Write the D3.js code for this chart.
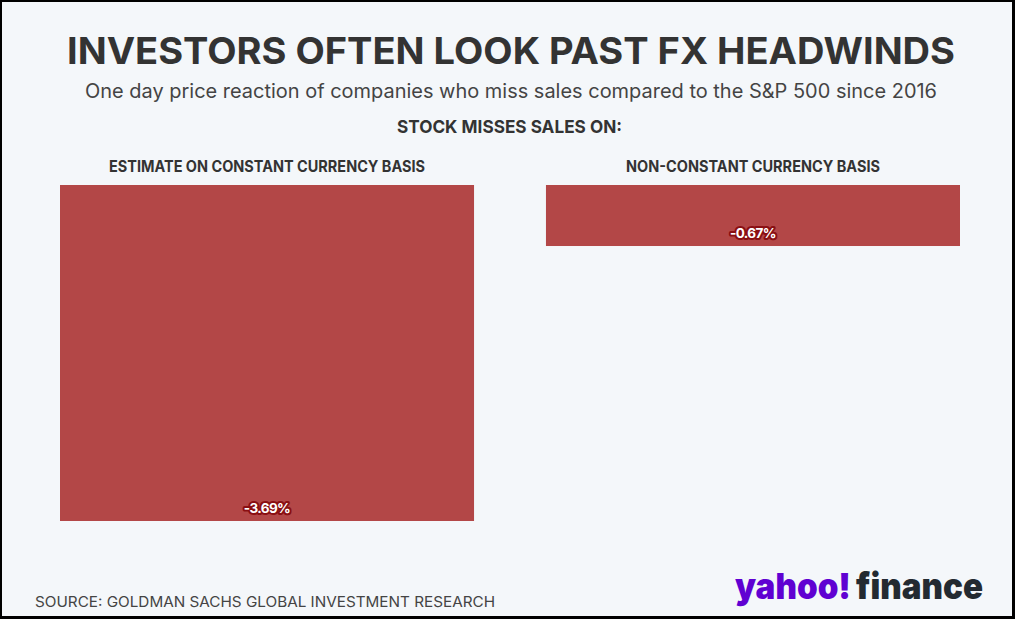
<!DOCTYPE html>
<html>
<head>
<meta charset="utf-8">
<script src="https://cdn.jsdelivr.net/npm/d3@7"></script>
<style>
  html, body { margin: 0; padding: 0; background: #000; }
  svg { display: block; }
</style>
</head>
<body>
<svg id="chart" width="1015" height="619"></svg>
<script>
// ---- data ----
const categories = ["ESTIMATE ON CONSTANT CURRENCY BASIS", "NON-CONSTANT CURRENCY BASIS"];
const values = [-3.69, -0.67];
const valueLabels = ["-3.69%", "-0.67%"];
const titleText = "INVESTORS OFTEN LOOK PAST FX HEADWINDS";
const subtitleText = "One day price reaction of companies who miss sales compared to the S&P 500 since 2016";
const sectionText = "STOCK MISSES SALES ON:";
const sourceText = "SOURCE: GOLDMAN SACHS GLOBAL INVESTMENT RESEARCH";

const svg = d3.select("#chart");
const W = 1015, H = 619;
const FONT = "Inter, Roboto, sans-serif";

// frame + background
svg.append("rect").attr("x", 0).attr("y", 0).attr("width", W).attr("height", H).attr("fill", "#000");
svg.append("rect").attr("x", 2).attr("y", 2).attr("width", 1010).attr("height", 614).attr("fill", "#f4f7fa");

// title
svg.append("text")
  .attr("x", 67).attr("y", 64)
  .attr("textLength", 888).attr("lengthAdjust", "spacingAndGlyphs")
  .style("font-family", FONT).style("font-weight", 700)
  .style("font-size", "37px").attr("fill", "#333333")
  .text(titleText);

svg.append("text")
  .attr("x", 85).attr("y", 98)
  .attr("textLength", 852).attr("lengthAdjust", "spacingAndGlyphs")
  .style("font-family", FONT).style("font-weight", 400)
  .style("font-size", "19.5px").attr("fill", "#444444")
  .text(subtitleText);

svg.append("text")
  .attr("x", 397).attr("y", 133)
  .attr("textLength", 225).attr("lengthAdjust", "spacingAndGlyphs")
  .style("font-family", FONT).style("font-weight", 700)
  .style("font-size", "18px").attr("fill", "#333333")
  .text(sectionText);

// scales
const x = d3.scaleBand().domain(categories).range([60, 960]).paddingInner(0.148).paddingOuter(0);
const y = d3.scaleLinear().domain([-3.69, 0]).range([521, 185]);

const labelWidths = [316, 254];

const g = svg.append("g");
categories.forEach((c, i) => {
  const v = values[i];
  const bx = x(c), bw = x.bandwidth();
  g.append("rect")
    .attr("x", bx).attr("y", y(0))
    .attr("width", bw).attr("height", y(v) - y(0))
    .attr("fill", "#b34747");

  g.append("text")
    .attr("x", bx + bw / 2).attr("y", 172)
    .attr("text-anchor", "middle")
    .attr("textLength", labelWidths[i]).attr("lengthAdjust", "spacingAndGlyphs")
    .style("font-family", FONT).style("font-weight", 700)
    .style("font-size", "15.5px").attr("fill", "#333333")
    .text(c);

  g.append("text")
    .attr("x", bx + bw / 2).attr("y", y(v) - 8)
    .attr("text-anchor", "middle")
    .style("font-family", FONT).style("font-weight", 700)
    .style("font-size", "13.5px").attr("fill", "#ffffff")
    .attr("stroke", "#8a0f12").attr("stroke-width", 4).attr("stroke-linejoin", "round")
    .style("paint-order", "stroke")
    .attr("letter-spacing", "-0.6px")
    .text(valueLabels[i]);
});

// source
svg.append("text")
  .attr("x", 35).attr("y", 607)
  .attr("textLength", 460).attr("lengthAdjust", "spacingAndGlyphs")
  .style("font-family", FONT).style("font-weight", 400)
  .style("font-size", "14px").attr("fill", "#444444")
  .text(sourceText);

// logo
svg.append("text")
  .attr("x", 735).attr("y", 599)
  .attr("textLength", 116).attr("lengthAdjust", "spacingAndGlyphs")
  .style("font-family", "Inter, Lato, sans-serif").style("font-weight", 900)
  .style("font-size", "36px").attr("fill", "#6001d2")
  .text("yahoo!");
svg.append("text")
  .attr("x", 856).attr("y", 599)
  .attr("textLength", 127).attr("lengthAdjust", "spacingAndGlyphs")
  .style("font-family", "Inter, Lato, sans-serif").style("font-weight", 900)
  .style("font-size", "36px").attr("fill", "#232a31")
  .text("finance");
</script>
</body>
</html>
